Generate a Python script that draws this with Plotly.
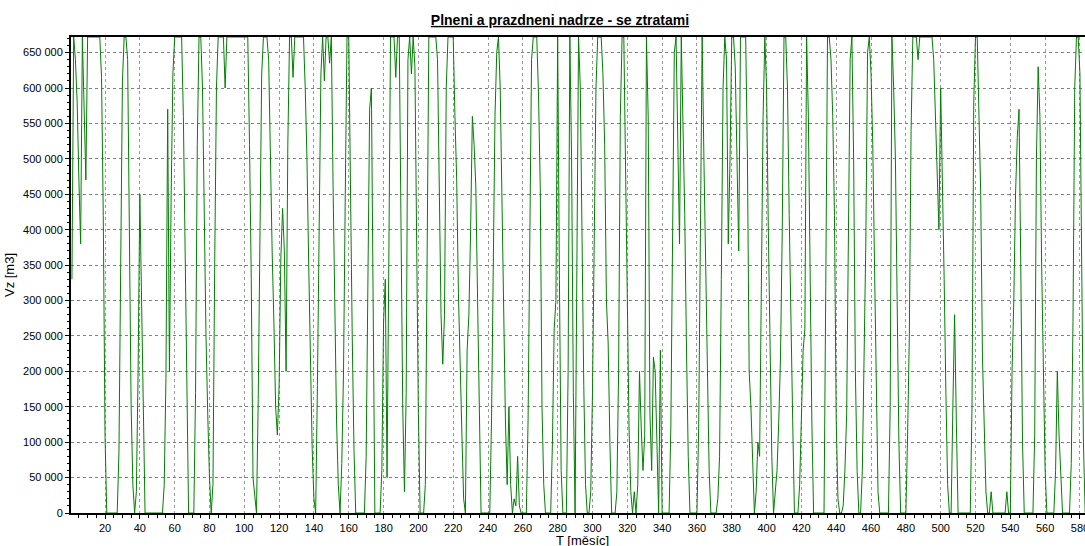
import plotly.graph_objects as go

# Monthly reservoir volume Vz, in thousands of m3 (months 1..585)
vz_thousands = [
    330, 672, 640, 580, 470, 380, 672, 560, 470, 672,
    672, 672, 672, 672, 672, 672, 672, 615, 420, 110,
    0, 0, 0, 0, 0, 0, 0, 85, 410, 610,
    672, 672, 640, 420, 150, 40, 0, 30, 200, 450,
    280, 110, 0, 0, 0, 0, 0, 0, 0, 0,
    0, 0, 0, 40, 190, 570, 200, 450, 620, 672,
    672, 672, 672, 672, 560, 350, 150, 0, 0, 0,
    0, 170, 520, 672, 672, 600, 420, 250, 140, 50,
    0, 40, 350, 600, 672, 672, 672, 672, 600, 672,
    672, 672, 672, 672, 672, 672, 672, 672, 672, 672,
    672, 672, 520, 330, 50, 25, 0, 160, 420, 620,
    672, 672, 672, 640, 480, 370, 270, 150, 110, 180,
    360, 430, 370, 200, 520, 672, 672, 615, 672, 672,
    672, 672, 672, 672, 600, 500, 350, 200, 90, 20,
    0, 180, 440, 620, 672, 610, 672, 672, 635, 672,
    460, 300, 130, 40, 0, 70, 200, 450, 672, 672,
    420, 250, 90, 0, 0, 0, 0, 0, 0, 80,
    330, 570, 600, 250, 0, 0, 0, 0, 60, 270,
    330, 50, 350, 672, 672, 672, 615, 672, 672, 420,
    150, 30, 170, 640, 672, 620, 672, 630, 330, 140,
    0, 0, 0, 40, 300, 672, 672, 672, 672, 672,
    640, 470, 280, 210, 280, 600, 672, 672, 672, 672,
    560, 470, 310, 190, 110, 20, 0, 230, 280, 400,
    560, 520, 460, 300, 130, 0, 0, 0, 0, 0,
    0, 130, 380, 560, 650, 672, 600, 440, 240, 130,
    40, 150, 40, 0, 20, 10, 80, 10, 0, 0,
    0, 0, 130, 400, 640, 672, 672, 672, 590, 460,
    150, 40, 0, 0, 0, 0, 100, 260, 300, 672,
    330, 60, 0, 0, 0, 200, 672, 500, 170, 0,
    300, 672, 600, 350, 180, 40, 0, 0, 30, 170,
    400, 600, 672, 672, 672, 620, 520, 300, 240, 100,
    0, 0, 0, 30, 200, 560, 672, 672, 500, 280,
    120, 30, 0, 30, 0, 40, 200, 120, 60, 110,
    672, 560, 140, 60, 220, 200, 110, 0, 230, 0,
    0, 0, 0, 0, 120, 420, 650, 672, 540, 380,
    672, 560, 420, 230, 80, 0, 0, 0, 0, 0,
    120, 380, 672, 500, 340, 220, 60, 0, 0, 0,
    0, 20, 80, 330, 600, 672, 640, 380, 500, 672,
    672, 630, 480, 370, 672, 672, 672, 672, 500, 200,
    150, 60, 0, 30, 100, 80, 350, 560, 672, 600,
    400, 230, 80, 0, 30, 60, 130, 220, 400, 672,
    672, 600, 420, 300, 130, 0, 0, 0, 40, 150,
    230, 260, 672, 560, 300, 130, 0, 0, 0, 0,
    0, 0, 0, 320, 672, 672, 640, 560, 420, 130,
    20, 0, 0, 10, 60, 140, 450, 640, 672, 500,
    200, 60, 0, 0, 60, 200, 380, 650, 672, 620,
    520, 350, 150, 30, 0, 0, 0, 0, 0, 0,
    150, 672, 600, 500, 300, 100, 0, 0, 0, 0,
    110, 250, 540, 672, 672, 672, 640, 672, 672, 672,
    672, 672, 672, 672, 672, 640, 560, 450, 400, 600,
    480, 330, 170, 40, 0, 0, 150, 280, 130, 0,
    0, 0, 0, 0, 0, 0, 0, 150, 580, 672,
    672, 560, 450, 220, 100, 30, 0, 0, 30, 0,
    0, 0, 0, 0, 0, 0, 0, 30, 0, 0,
    200, 300, 450, 530, 570, 350, 100, 0, 0, 0,
    0, 0, 0, 110, 500, 630, 560, 350, 200, 60,
    0, 0, 0, 0, 0, 60, 200, 110, 50, 0,
    0, 0, 0, 0, 70, 270, 600, 672, 672, 620,
    350, 100, 0, 0, 0,
]
months = list(range(1, len(vz_thousands) + 1))
vz = [v * 1000 for v in vz_thousands]

title_text = "Plneni a prazdneni nadrze - se ztratami"
x_title = "T [měsíc]"
y_title = "Vz [m3]"

fig = go.Figure()
fig.add_trace(go.Scatter(
    x=months, y=vz, mode="lines",
    line=dict(color="#008000", width=1),
    hoverinfo="skip", showlegend=False,
))

font_family = "Liberation Sans, Arial, sans-serif"

W, H = 1085, 546
ML, MT, MB = 71, 37, 33
plot_h = H - MT - MB

fig.update_layout(
    width=W, height=H,
    margin=dict(l=ML, r=0, t=MT, b=MB, autoexpand=False),
    paper_bgcolor="white", plot_bgcolor="white",
    separators=". ",
    font=dict(family=font_family, size=11, color="#000000"),
    title=dict(
        text="<b>" + title_text + "</b>",
        x=560 / W, xref="container", xanchor="center",
        y=1 - 20 / H, yref="container", yanchor="middle",
        font=dict(family=font_family, size=14, color="#000000", lineposition="under"),
    ),
    xaxis=dict(
        range=[0.46, 582.9],
        automargin=False,
        tickmode="linear", tick0=0, dtick=20,
        ticks="outside", ticklen=4, tickwidth=1, tickcolor="#000000",
        ticklabeloverflow="allow",
        minor=dict(dtick=5, tick0=0, ticks="outside", ticklen=3, tickcolor="#000000", showgrid=False),
        showline=True, linecolor="#000000", linewidth=2, mirror=True,
        showgrid=True, gridcolor="#9a9a9a", gridwidth=1, griddash="3px,3px",
        zeroline=False,
        tickfont=dict(size=11, color="#000000"),
    ),
    yaxis=dict(
        range=[0, 672000],
        automargin=False,
        tickmode="linear", tick0=0, dtick=50000,
        tickformat=",d",
        ticks="outside", ticklen=4, tickwidth=1, tickcolor="#000000",
        minor=dict(dtick=10000, tick0=0, ticks="outside", ticklen=2, tickcolor="#000000", showgrid=False),
        showline=True, linecolor="#000000", linewidth=2, mirror=False,
        showgrid=True, gridcolor="#808080", gridwidth=1, griddash="3px,3px",
        zeroline=False,
        tickfont=dict(size=11, color="#000000"),
        title=dict(text=y_title, font=dict(size=13, color="#000000"), standoff=5),
    ),
    annotations=[
        dict(
            text=x_title, showarrow=False,
            xref="paper", x=(582 - ML) / (W - ML), xanchor="center",
            yref="paper", y=-(531 - (H - MB)) / plot_h, yanchor="top",
            font=dict(family=font_family, size=13, color="#000000"),
        )
    ],
)

# remove the default page margin so the figure fills the 1085x546 window exactly
fig.write_html(
    "out.html",
    config={"displayModeBar": False, "staticPlot": True},
    post_script="document.body.style.margin='0';document.body.style.overflow='hidden';",
)
